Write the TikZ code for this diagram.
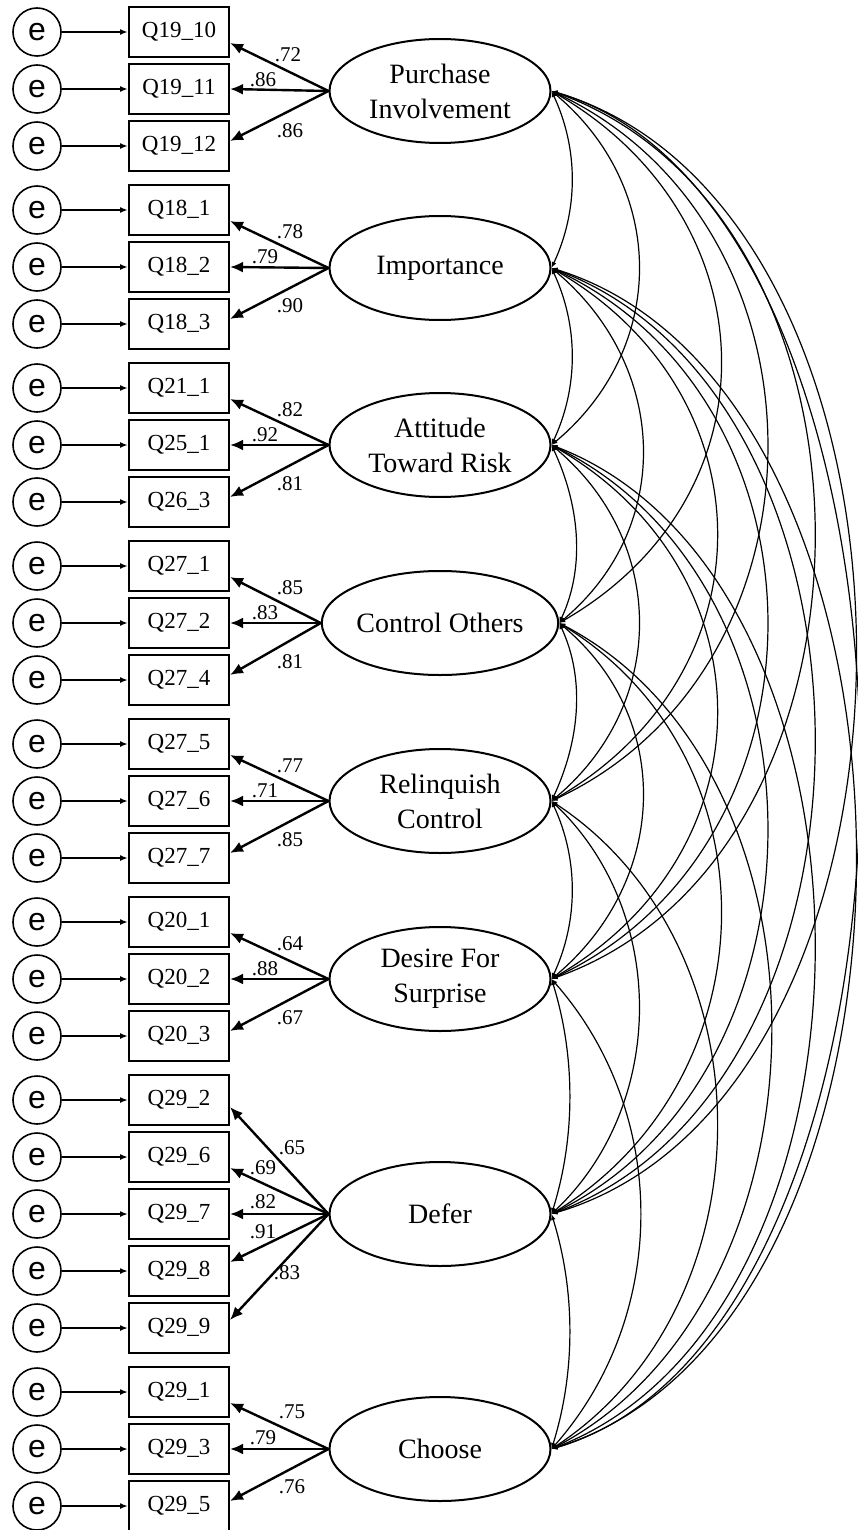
\documentclass[tikz,border=0pt]{standalone}
\usepackage{fontspec}
\setmainfont{Liberation Serif}
\newfontfamily\errfont{Liberation Sans}
\usetikzlibrary{arrows.meta,shapes.geometric}
\begin{document}
\begin{tikzpicture}[x=0.5pt,y=-0.5pt,
  obs/.style={draw,line width=1pt,minimum width=50pt,minimum height=25pt,inner sep=0pt,font=\fontsize{11.5}{13}\selectfont},
  lat/.style={draw,ellipse,line width=1pt,minimum width=110.5pt,minimum height=52pt,inner sep=0pt,align=center,font=\fontsize{14}{17.5}\selectfont},
  err/.style={draw,circle,line width=0.8pt,minimum size=24pt,inner sep=0pt,font=\errfont\fontsize{16}{18}\selectfont},
  earrow/.style={line width=0.8pt,-{Latex[length=4pt,width=3pt]}},
  load/.style={line width=1.2pt,-{Latex[length=6.5pt,width=5.5pt]}},
  cov/.style={line width=0.6pt,{Latex[length=3pt,width=2.4pt]}-{Latex[length=3pt,width=2.4pt]}},
  lbl/.style={inner sep=0pt,font=\fontsize{10.5}{12}\selectfont}]
\useasboundingbox (0,0) rectangle (857,1530);

% ---------- latent variables ----------
\node[lat] (PI) at (440,91)   {Purchase\\Involvement};
\node[lat] (IM) at (440,268)  {Importance};
\node[lat] (AT) at (440,445)  {Attitude\\Toward Risk};
\node[lat] (CO) at (440,623)  {Control Others};
\node[lat] (RC) at (440,801)  {Relinquish\\Control};
\node[lat] (DS) at (440,979)  {Desire For\\Surprise};
\node[lat] (DF) at (440,1214) {Defer};
\node[lat] (CH) at (440,1449) {Choose};

% ---------- indicators with their error terms ----------
\foreach \nm/\yy in {Q19_10/32,Q19_11/89,Q19_12/146,
                     Q18_1/210,Q18_2/267,Q18_3/324,
                     Q21_1/388,Q25_1/445,Q26_3/502,
                     Q27_1/566,Q27_2/623,Q27_4/680,
                     Q27_5/744,Q27_6/801,Q27_7/858,
                     Q20_1/922,Q20_2/979,Q20_3/1036,
                     Q29_2/1100,Q29_6/1157,Q29_7/1214,Q29_8/1271,Q29_9/1328,
                     Q29_1/1392,Q29_3/1449,Q29_5/1506}{
  \node[obs] (b\nm) at (179,\yy) {\detokenize\expandafter{\nm}};
  \node[err] (e\nm) at (37,\yy) {e};
  \draw[earrow] (e\nm) -- (b\nm);
}

% ---------- factor loadings ----------
\foreach \lv/\nm/\sh/\val/\lx/\ly in {
  PI/Q19_10/-5.5/.72/288/55,  PI/Q19_11/0/.86/263/80,   PI/Q19_12/2.5/.86/290/131,
  IM/Q18_1/-5.5/.78/290/232,  IM/Q18_2/0/.79/265/257,   IM/Q18_3/2.5/.90/290/306,
  AT/Q21_1/-5.5/.82/290/410,  AT/Q25_1/0/.92/265/435,   AT/Q26_3/2.5/.81/290/484,
  CO/Q27_1/-5.5/.85/290/588,  CO/Q27_2/0/.83/265/613,   CO/Q27_4/2.5/.81/290/662,
  RC/Q27_5/-5.5/.77/290/766,  RC/Q27_6/0/.71/265/791,   RC/Q27_7/2.5/.85/290/840,
  DS/Q20_1/-5.5/.64/290/944,  DS/Q20_2/0/.88/265/969,   DS/Q20_3/2.5/.67/290/1018,
  DF/Q29_2/-3.5/.65/292/1148, DF/Q29_6/-5.5/.69/263/1168, DF/Q29_7/0/.82/263/1202,
  DF/Q29_8/4.5/.91/263/1232,  DF/Q29_9/4/.83/287/1273,
  CH/Q29_1/-5.5/.75/292/1412, CH/Q29_3/0/.79/263/1438,  CH/Q29_5/2.5/.76/292/1487}{
  \draw[load] (\lv.west) -- ([yshift=\sh pt]b\nm.east);
  \node[lbl] (l\nm) at (\lx,\ly) {\val};
}

% ---------- covariances between the factors ----------
% \c = horizontal reach of the control handles, \d = their vertical reach
\foreach \a/\b/\c/\d in {
  PI/IM/27/58,  IM/AT/27/58,  AT/CO/27/58,  CO/RC/27/58,  RC/DS/27/58,
  DS/DF/24/77,  DF/CH/24/77,
  PI/AT/116/97, IM/CO/116/97, AT/RC/116/97, CO/DS/116/97,
  RC/DF/116/110, DS/CH/118/134,
  PI/CO/220/127, IM/RC/220/127, AT/DS/220/127, CO/DF/220/135, RC/CH/220/145,
  PI/RC/287/134, IM/DS/287/134, AT/DF/287/140, CO/CH/287/150,
  PI/DS/350/124, IM/DF/350/130, AT/CH/350/135,
  PI/DF/405/120, IM/CH/405/125,
  PI/CH/410/120}{
  \draw[cov] (\a.east) .. controls +(\c,\d) and +(\c,-\d) .. (\b.east);
}
\end{tikzpicture}
\end{document}
